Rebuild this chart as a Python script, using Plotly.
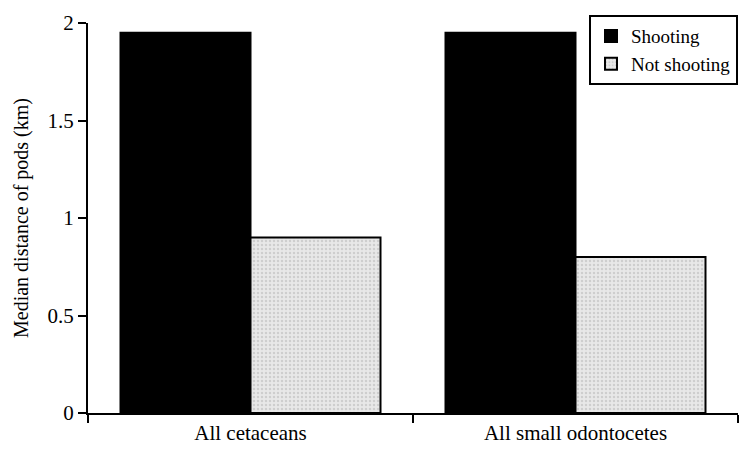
import plotly.graph_objects as go

categories = ['All cetaceans', 'All small odontocetes']
shooting = [1.95, 1.95]
not_shooting = [0.9, 0.8]

font_family = 'Liberation Serif, Times New Roman, serif'

fig = go.Figure(data=[
    go.Bar(
        x=categories,
        y=shooting,
        name='Shooting',
        marker=dict(color='black', line=dict(color='black', width=2))
    ),
    go.Bar(
        x=categories,
        y=not_shooting,
        name='Not shooting',
        marker=dict(
            color='#e4e4e4',
            line=dict(color='black', width=2),
            pattern=dict(shape='.', fgcolor='#b4b4b4', bgcolor='#e8e8e8',
                         size=4, solidity=0.3)
        )
    )
])

fig.update_layout(
    width=740,
    height=455,
    margin=dict(l=88, r=2, t=23, b=42, autoexpand=False),
    plot_bgcolor='white',
    paper_bgcolor='white',
    font=dict(family=font_family, size=20, color='black'),
    barmode='group',
    bargap=0.2,
    bargroupgap=0,
    showlegend=True,
    legend=dict(
        x=1, y=1.02, xanchor='right', yanchor='top',
        bordercolor='black', borderwidth=2,
        font=dict(family=font_family, size=19, color='black'),
        tracegroupgap=8,
        itemwidth=30,
    ),
    xaxis=dict(
        showline=True, linecolor='black', linewidth=2,
        ticks='outside', ticklen=8, tickwidth=2, tickcolor='black',
        tickson='boundaries',
        tickfont=dict(family=font_family, size=21, color='black'),
        showgrid=False, automargin=False,
    ),
    yaxis=dict(
        title=dict(text='Median distance of pods (km)', standoff=14,
                   font=dict(family=font_family, size=20, color='black')),
        range=[0, 2], dtick=0.5,
        showline=True, linecolor='black', linewidth=2,
        ticks='outside', ticklen=8, tickwidth=2, tickcolor='black',
        tickfont=dict(family=font_family, size=21, color='black'),
        showgrid=False, zeroline=False, automargin=False,
    ),
)

# drop the browser's default page margin so the figure fills the window
fig.write_html('out.html',
               config={'displayModeBar': False},
               post_script="document.body.style.margin='0';")
